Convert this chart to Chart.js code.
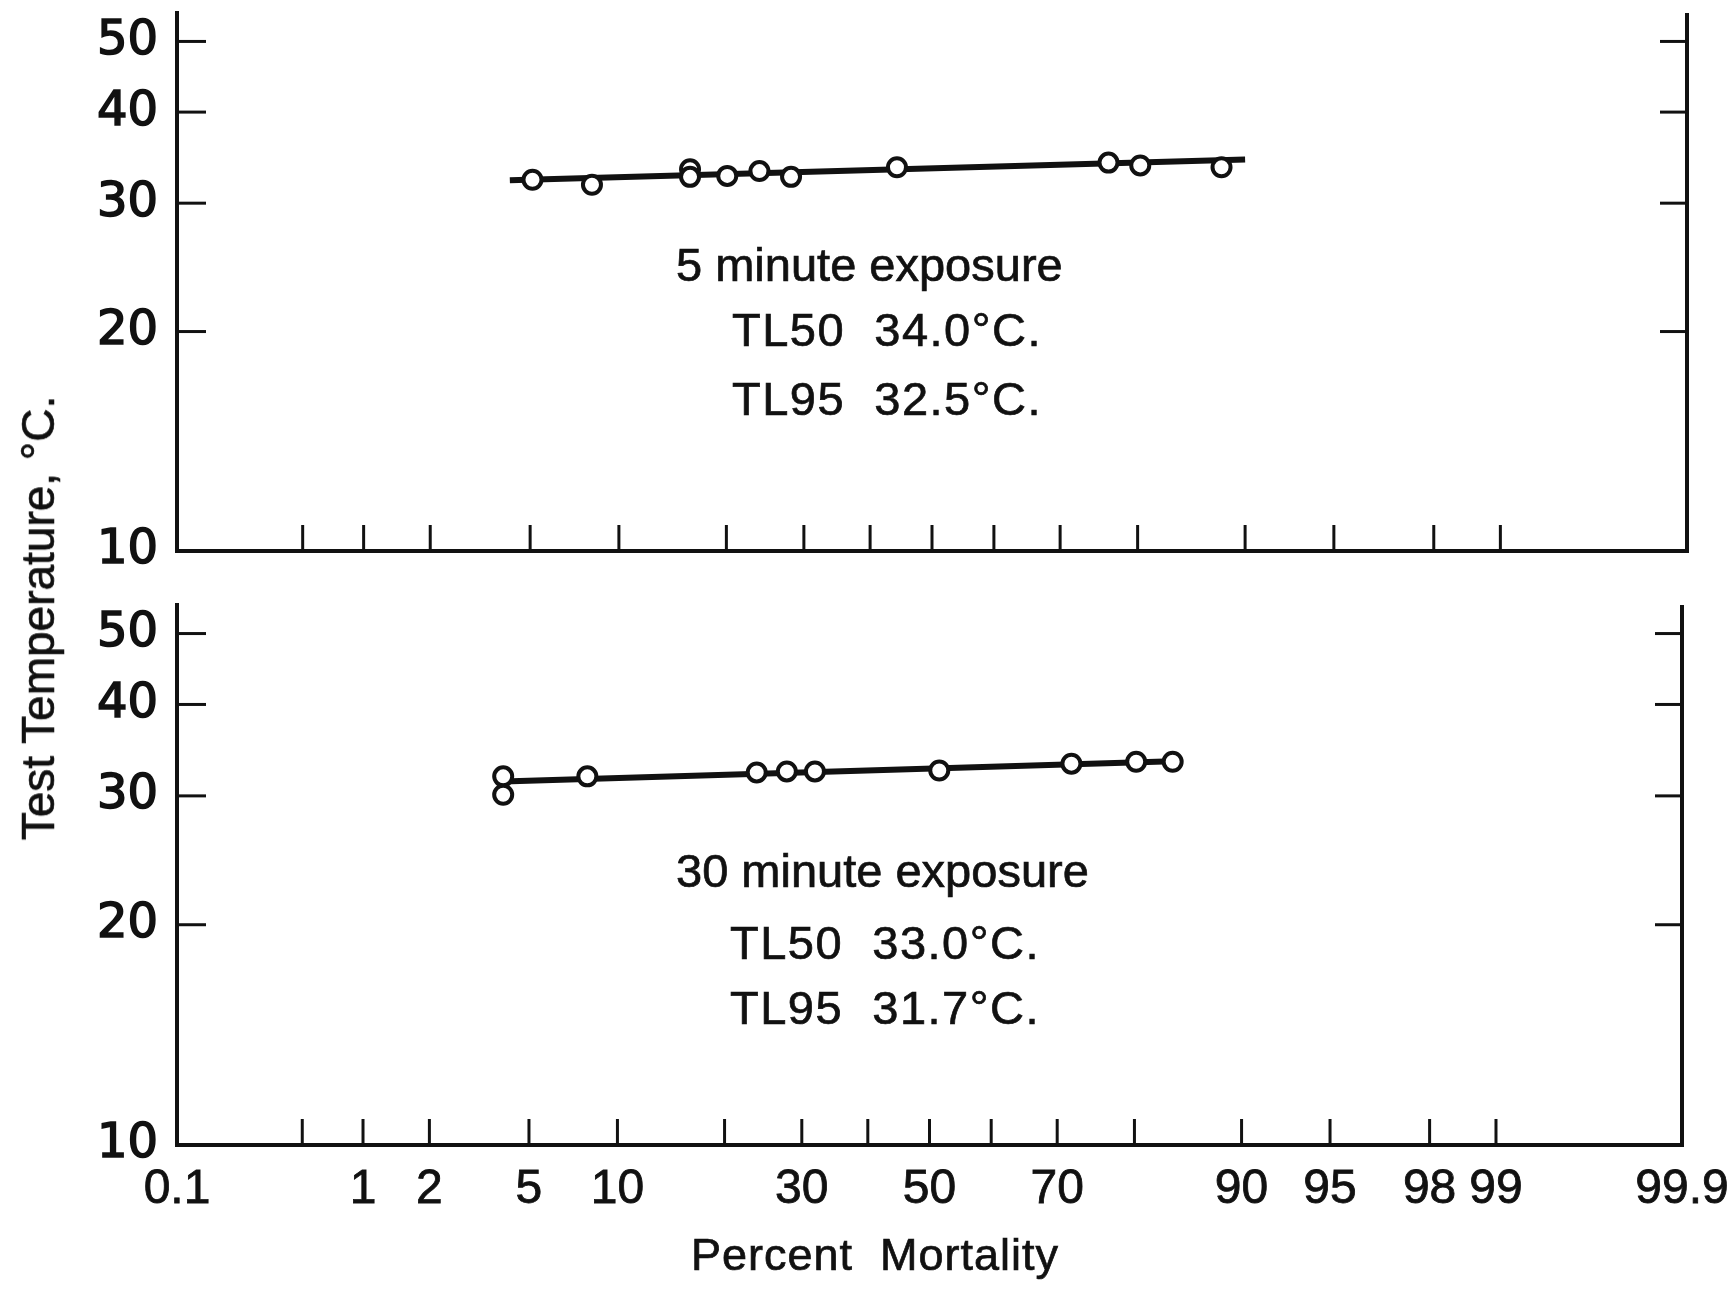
<!DOCTYPE html>
<html>
<head>
<meta charset="utf-8">
<script src="https://cdn.jsdelivr.net/npm/chart.js@4.4.1/dist/chart.umd.min.js"></script>
<style>
  body { margin: 0; background: #fff; }
  #wrap { position: relative; width: 1730px; height: 1292px; background: #fff; overflow: hidden; }
  canvas { position: absolute; left: 0; }
  .txt { position: absolute; font-family: "Liberation Sans", Arial, sans-serif; color: #111; white-space: pre; line-height: 1; -webkit-text-stroke: 0.7px #111; }
  .note { font-size: 47px; }
  .tl { letter-spacing: 1.5px; }
</style>
</head>
<body>
<div id="wrap">
  <canvas id="topChart" width="1730" height="600" style="top:0;width:1730px;height:600px"></canvas>
  <canvas id="bottomChart" width="1730" height="702" style="top:590px;width:1730px;height:702px"></canvas>

  <div class="txt note" style="left:676px;top:241px">5 minute exposure</div>
  <div class="txt note tl" style="left:732px;top:306px">TL50  34.0°C.</div>
  <div class="txt note tl" style="left:732px;top:375px">TL95  32.5°C.</div>

  <div class="txt note" style="left:676px;top:847px">30 minute exposure</div>
  <div class="txt note tl" style="left:730px;top:919px">TL50  33.0°C.</div>
  <div class="txt note tl" style="left:730px;top:984px">TL95  31.7°C.</div>

  <div class="txt" style="left:38px;top:618px;font-size:46px;transform:translate(-50%,-50%) rotate(-90deg)">Test Temperature, °C.</div>
  <div class="txt" style="left:691px;top:1232px;font-size:45px;letter-spacing:1px">Percent  Mortality</div>
</div>

<script>
// Tick values
const xTickMarks = [0.5, 1, 2, 5, 10, 20, 30, 40, 50, 60, 70, 80, 90, 95, 98, 99];
const xTickLabels = [0.1, 1, 2, 5, 10, 30, 50, 70, 90, 95, 98, 99, 99.9];
const yTicks = [10, 20, 30, 40, 50];

// 5 minute exposure
const topMortality = [5.1, 8.2, 16.1, 16.1, 20.1, 24.0, 28.2, 44.3, 76.5, 80.3, 88.2];
const topTemp = [32.3, 31.8, 33.4, 32.6, 32.7, 33.2, 32.6, 33.6, 34.1, 33.8, 33.6];
const topFitMortality = [4.2, 90.0];
const topFitTemp = [32.25, 34.45];

// 30 minute exposure
const bottomMortality = [4.0, 4.0, 8.0, 23.9, 27.9, 31.9, 51.6, 72.0, 80.2, 84.1];
const bottomTemp = [31.9, 30.1, 31.9, 32.3, 32.4, 32.4, 32.5, 33.2, 33.4, 33.4];
const bottomFitMortality = [4.0, 84.1];
const bottomFitTemp = [31.4, 33.45];

const INK = "#111";
const TICK_FONT = { family: "'DejaVu Sans', sans-serif", size: 48 };
const X_FONT = { family: "'Liberation Sans', Arial, sans-serif", size: 48 };

// Inverse normal CDF (Acklam)
function probit(p) {
  const a = [-3.969683028665376e+01, 2.209460984245205e+02, -2.759285104469687e+02, 1.383577518672690e+02, -3.066479806614716e+01, 2.506628277459239e+00];
  const b = [-5.447609879822406e+01, 1.615858368580409e+02, -1.556989798598866e+02, 6.680131188771972e+01, -1.328068155288572e+01];
  const c = [-7.784894002430293e-03, -3.223964580411365e-01, -2.400758277161838e+00, -2.549732539343734e+00, 4.374664141464968e+00, 2.938163982698783e+00];
  const d = [7.784695709041462e-03, 3.224671290700398e-01, 2.445134137142996e+00, 3.754408661907416e+00];
  const pLow = 0.02425;
  if (p < pLow) {
    const q = Math.sqrt(-2 * Math.log(p));
    return (((((c[0]*q+c[1])*q+c[2])*q+c[3])*q+c[4])*q+c[5]) / ((((d[0]*q+d[1])*q+d[2])*q+d[3])*q+1);
  }
  if (p > 1 - pLow) {
    const q = Math.sqrt(-2 * Math.log(1 - p));
    return -(((((c[0]*q+c[1])*q+c[2])*q+c[3])*q+c[4])*q+c[5]) / ((((d[0]*q+d[1])*q+d[2])*q+d[3])*q+1);
  }
  const q = p - 0.5, r = q * q;
  return (((((a[0]*r+a[1])*r+a[2])*r+a[3])*r+a[4])*r+a[5])*q / (((((b[0]*r+b[1])*r+b[2])*r+b[3])*r+b[4])*r+1);
}

function normCdf(z) {
  const t = 1 / (1 + 0.3275911 * Math.abs(z) / Math.SQRT2);
  const y = 1 - (((((1.061405429*t - 1.453152027)*t) + 1.421413741)*t - 0.284496736)*t + 0.254829592)*t * Math.exp(-z*z/2);
  return z >= 0 ? (1 + y) / 2 : (1 - y) / 2;
}

// Probability (probit) axis for percent mortality
class ProbitScale extends Chart.Scale {
  static id = "probit";
  static defaults = {};
  determineDataLimits() {
    this.min = this.options.min;
    this.max = this.options.max;
  }
  buildTicks() {
    return [0.1, ...xTickMarks, 99.9].map(v => ({ value: v }));
  }
  getLabelForValue(v) { return String(v); }
  _z() { return [probit(this.min / 100), probit(this.max / 100)]; }
  getPixelForValue(v) {
    const [z0, z1] = this._z();
    return this.getPixelForDecimal((probit(v / 100) - z0) / (z1 - z0));
  }
  getValueForPixel(px) {
    const [z0, z1] = this._z();
    return 100 * normCdf(z0 + this.getDecimalForPixel(px) * (z1 - z0));
  }
}
Chart.register(ProbitScale);

// Inward tick marks + right-hand frame line
const inwardTicks = {
  id: "inwardTicks",
  afterDraw(chart) {
    const { ctx, chartArea: a, scales: { x, y } } = chart;
    const seg = (x1, y1, x2, y2) => { ctx.beginPath(); ctx.moveTo(x1, y1); ctx.lineTo(x2, y2); ctx.stroke(); };
    ctx.save();
    ctx.strokeStyle = INK;
    ctx.lineWidth = 4;
    seg(a.right, a.top, a.right, a.bottom + 2);
    ctx.lineWidth = 3;
    xTickMarks.forEach(v => {
      const px = x.getPixelForValue(v);
      seg(px, a.bottom, px, a.bottom - 26);
    });
    yTicks.filter(v => v > 10).forEach(v => {
      const py = y.getPixelForValue(v);
      seg(a.left, py, a.left + 29, py);
      seg(a.right, py, a.right - 27, py);
    });
    ctx.restore();
  }
};

const points = (xs, ys) => xs.map((v, i) => ({ x: v, y: ys[i] }));

function makeChart(el, opts) {
  return new Chart(el, {
    type: "scatter",
    data: {
      datasets: [
        {
          data: points(opts.mortality, opts.temp),
          pointRadius: 9,
          pointBorderWidth: 4,
          pointBackgroundColor: "#fff",
          pointBorderColor: INK
        },
        {
          data: points(opts.fitMortality, opts.fitTemp),
          showLine: true,
          borderColor: INK,
          borderWidth: 6,
          pointRadius: 0
        }
      ]
    },
    options: {
      responsive: false,
      animation: false,
      events: [],
      layout: { padding: { top: opts.top, right: opts.right, left: 0, bottom: 0 } },
      plugins: { legend: { display: false }, tooltip: { enabled: false } },
      scales: {
        x: {
          type: "probit",
          min: 0.1,
          max: 99.9,
          afterFit: s => { s.height = opts.xHeight; s.paddingLeft = 0; s.paddingRight = 0; },
          grid: { display: false, drawTicks: false },
          border: { display: true, color: INK, width: 4 },
          ticks: {
            display: opts.xLabels,
            autoSkip: false,
            maxRotation: 0,
            minRotation: 0,
            padding: 16,
            color: INK,
            font: X_FONT,
            textStrokeColor: INK,
            textStrokeWidth: 0.8,
            callback: v => xTickLabels.includes(v) ? String(v) : ""
          }
        },
        y: {
          type: "logarithmic",
          min: 10,
          max: 54.7,
          afterFit: s => { s.width = 177; s.paddingTop = 0; s.paddingBottom = 0; },
          afterBuildTicks: s => { s.ticks = yTicks.map(v => ({ value: v })); },
          grid: { display: false, drawTicks: false },
          border: { display: true, color: INK, width: 4 },
          ticks: {
            autoSkip: false,
            padding: 19,
            color: INK,
            font: TICK_FONT,
            textStrokeColor: INK,
            textStrokeWidth: 1.6,
            callback: v => String(v)
          }
        }
      }
    },
    plugins: [inwardTicks]
  });
}

makeChart(document.getElementById("topChart"), {
  mortality: topMortality, temp: topTemp,
  fitMortality: topFitMortality, fitTemp: topFitTemp,
  top: 10, right: 43, xHeight: 49, xLabels: false
});

makeChart(document.getElementById("bottomChart"), {
  mortality: bottomMortality, temp: bottomTemp,
  fitMortality: bottomFitMortality, fitTemp: bottomFitTemp,
  top: 15, right: 48, xHeight: 147, xLabels: true
});
</script>
</body>
</html>
